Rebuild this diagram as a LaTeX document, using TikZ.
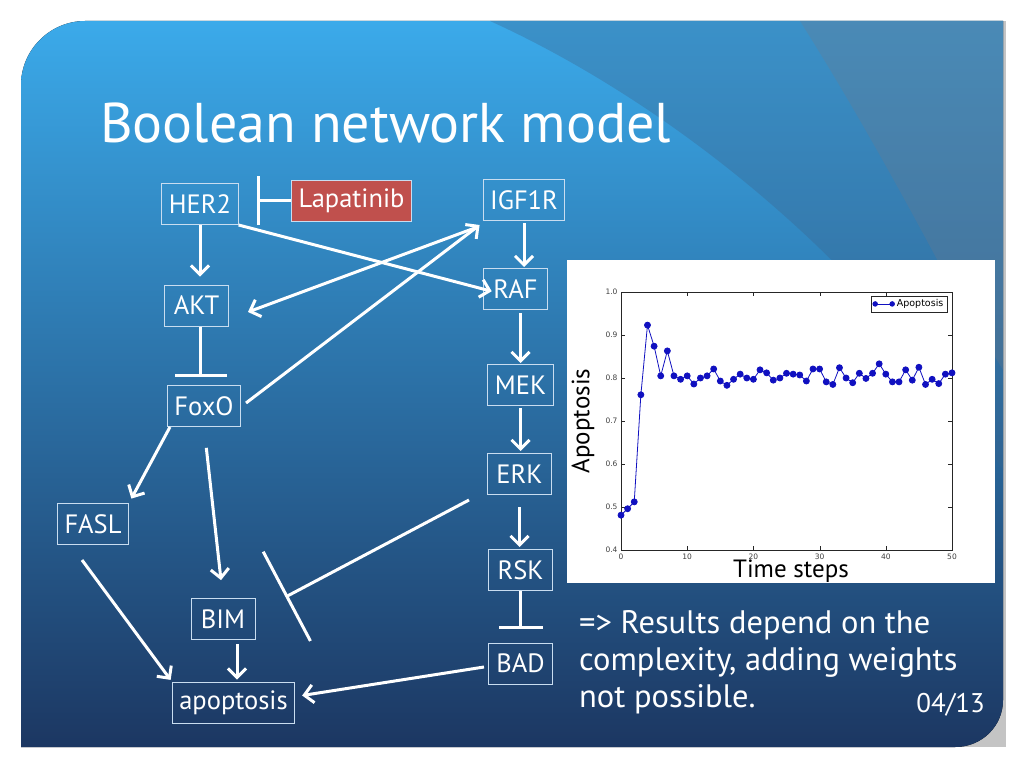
\documentclass[tikz,border=0pt]{standalone}
\usepackage{fontspec}
\setmainfont{PT Sans}
\newfontfamily\plotfont{DejaVu Sans}
\usepackage{tikz}
\usetikzlibrary{arrows.meta,positioning,calc}
\usepackage{pgfplots}
\pgfplotsset{compat=1.18}
\definecolor{cTOP}{HTML}{3BAAEA}
\definecolor{cMID}{HTML}{2E7BB4}
\definecolor{cBOT}{HTML}{1C3762}
\definecolor{cBOX}{HTML}{C9DDF0}
\definecolor{cLAP}{HTML}{C0504D}
\definecolor{cPLT}{HTML}{1010C0}
\definecolor{cGRY}{HTML}{C4C4C4}
\definecolor{cBND}{HTML}{3C648C}
\definecolor{cSTN}{HTML}{787882}

\tikzset{
  gene/.style={draw=cBOX, line width=1pt, text=white, minimum height=41pt, minimum width=64pt,
    inner xsep=7pt, font=\fontsize{26.5}{26.5}\selectfont},
  act/.style={draw=white, line width=3pt, -{Straight Barb[length=9pt,width=18pt]}},
  inh/.style={draw=white, line width=3pt, -{Bar[width=#1]}},
}

\begin{document}
\begin{tikzpicture}[x=1pt, y=-1pt]
\useasboundingbox (0,0) rectangle (1024,768);
\fill[white] (0,0) rectangle (1024,768);
% slide background
\fill[cGRY] (900,21) rectangle (1006,747);
\fill[top color=cTOP, middle color=cMID, bottom color=cBOT]
  (21,747) -- (21,85) .. controls (21,50) and (50,21) .. (85,21) -- (1003,21)
  -- (1003,700) .. controls (1003,726) and (982,747) .. (955,747) -- cycle;
\fill[cBND, opacity=0.35] (490,21) .. controls (620,80) and (760,180) .. (870,300)
  .. controls (930,370) and (970,420) .. (1003,470) -- (1003,21) -- cycle;
\fill[cSTN, opacity=0.25] (800,21) .. controls (850,100) and (900,190) .. (940,265)
  .. controls (960,300) and (985,340) .. (1003,370) -- (1003,21) -- cycle;

\node[anchor=base west, text=white, inner sep=0, font=\fontsize{56}{60}\selectfont]
  (title) at (100,142) {Boolean network model};

% plot
\fill[white] (567,260) rectangle (995,583);
\begin{scope}[x=1cm, y=1cm]
\begin{axis}[at={(621pt,-550pt)}, anchor=south west, scale only axis, width=331pt, height=258pt,
  xmin=0, xmax=50, ymin=0.4, ymax=1.0,
  xtick={0,10,20,30,40,50}, ytick={0.4,0.5,0.6,0.7,0.8,0.9,1.0},
  xticklabel={\pgfmathprintnumber[assume math mode=true]{\tick}},
  yticklabel={\pgfmathprintnumber[assume math mode=true, fixed, precision=1, fixed zerofill]{\tick}},
  tick label style={font=\plotfont\fontsize{7.5}{8}\selectfont, text=black!75},
  axis line style={black!85, line width=0.7pt}, major tick style={black!85},
  legend style={at={(0.985,0.985)}, anchor=north east, draw=black!85, inner sep=1.5pt,
    font=\plotfont\fontsize{9.5}{9.5}\selectfont},
  legend image code/.code={\draw[#1, mark=none] (0pt,0pt) -- (17pt,0pt);
    \fill[#1] (0pt,0pt) circle (2.3pt); \fill[#1] (17pt,0pt) circle (2.3pt);}]
\addplot[cPLT, line width=0.8pt, mark=*, mark size=3pt] coordinates {
  (0,0.481) (1,0.496) (2,0.512) (3,0.761) (4,0.923) (5,0.874) (6,0.805) (7,0.863)
  (8,0.805) (9,0.797) (10,0.805) (11,0.786) (12,0.800) (13,0.805) (14,0.821)
  (15,0.793) (16,0.783) (17,0.797) (18,0.809) (19,0.800) (20,0.797) (21,0.819)
  (22,0.812) (23,0.795) (24,0.800) (25,0.811) (26,0.809) (27,0.807) (28,0.793)
  (29,0.821) (30,0.821) (31,0.791) (32,0.785) (33,0.824) (34,0.800) (35,0.789)
  (36,0.811) (37,0.799) (38,0.811) (39,0.833) (40,0.809) (41,0.791) (42,0.791)
  (43,0.819) (44,0.795) (45,0.825) (46,0.785) (47,0.797) (48,0.787) (49,0.809)
  (50,0.812)};
\addlegendentry{Apoptosis}
\end{axis}
\end{scope}
\node[rotate=90, font=\fontsize{25}{25}\selectfont] (ylab) at (583,421) {Apoptosis};
\node[anchor=base, font=\fontsize{25}{25}\selectfont] (xlab) at (791,577) {Time steps};

% network
\node[gene] (her2) at (200,204) {HER2};
\node[gene, fill=cLAP] (lap) at (351.5,200.5) {Lapatinib};
\node[gene] (igf) at (524,200) {IGF1R};
\node[gene] (akt) at (196.5,305.5) {AKT};
\node[gene] (raf) at (515.5,289) {RAF};
\node[gene] (mek) at (520.5,385) {MEK};
\node[gene] (foxo) at (204,406) {FoxO};
\node[gene] (erk) at (519.5,474) {ERK};
\node[gene] (fasl) at (93,524) {FASL};
\node[gene] (rsk) at (520.5,570) {RSK};
\node[gene] (bim) at (223,619) {BIM};
\node[gene] (bad) at (520.5,663.5) {BAD};
\node[gene] (apop) at (233.5,702.5) {apoptosis};
\coordinate (lapbar) at (257,200.5);
\coordinate (bimout) at ([xshift=14pt]bim.south);

\draw[inh=49pt] (lap.west) -- (lapbar);
\draw[act, shorten >=8pt] (her2.south) -- (her2.south |- akt.north);
\draw[act, shorten >=-9pt] (her2.south east) -- (raf.west);
\draw[act, shorten <=2pt, shorten >=1pt] (igf.south) -- (igf.south |- raf.north);
\draw[act] ([xshift=-5pt,yshift=-6pt]igf.south west) -- ([xshift=19pt,yshift=-6.5pt]akt.east);
\draw[act] ([xshift=5pt,yshift=3pt]foxo.east) -- ([xshift=-3pt,yshift=-4pt]igf.south west);
\draw[inh=52pt, shorten >=8pt] ([xshift=4pt]akt.south) -- ([xshift=4pt]akt.south |- foxo.north);
\draw[act, shorten <=3pt, shorten >=1pt] (mek.north |- raf.south) -- (mek.north);
\draw[act, shorten <=2pt, shorten >=2pt] (mek.south) -- (mek.south |- erk.north);
\draw[act, shorten <=12pt, shorten >=2pt] (erk.south) -- (erk.south |- rsk.north);
\draw[inh=44pt, shorten >=14pt] (rsk.south) -- (rsk.south |- bad.north);
\draw[act, shorten >=5pt] ([xshift=3pt]foxo.south west) -- (fasl.north east);
\draw[act, shorten <=21pt, shorten >=18pt] (foxo.south) -- (bim.north);
\draw[act, shorten >=2pt] ([xshift=-11pt,yshift=-15pt]fasl.south) -- (apop.north west);
\draw[act, shorten <=4pt, shorten >=2pt] (bimout) -- (bimout |- apop.north);
\draw[inh=101pt] ([xshift=-18pt,yshift=-5pt]erk.south west) -- ([xshift=30pt,yshift=22pt]bim.east);
\draw[act] ([xshift=-4pt,yshift=-3.5pt]bad.west) -- ([xshift=7pt,yshift=7pt]apop.east);

% text
\node[anchor=north west, align=left, text=white, inner sep=0, font=\fontsize{32.5}{37}\selectfont]
  (note) at (579,610) {=> Results depend on the\\complexity, adding weights\\not possible.};
\node[anchor=base east, text=white, inner sep=0, font=\fontsize{27}{27}\selectfont]
  (page) at (985,712) {04/13};
\end{tikzpicture}
\end{document}
